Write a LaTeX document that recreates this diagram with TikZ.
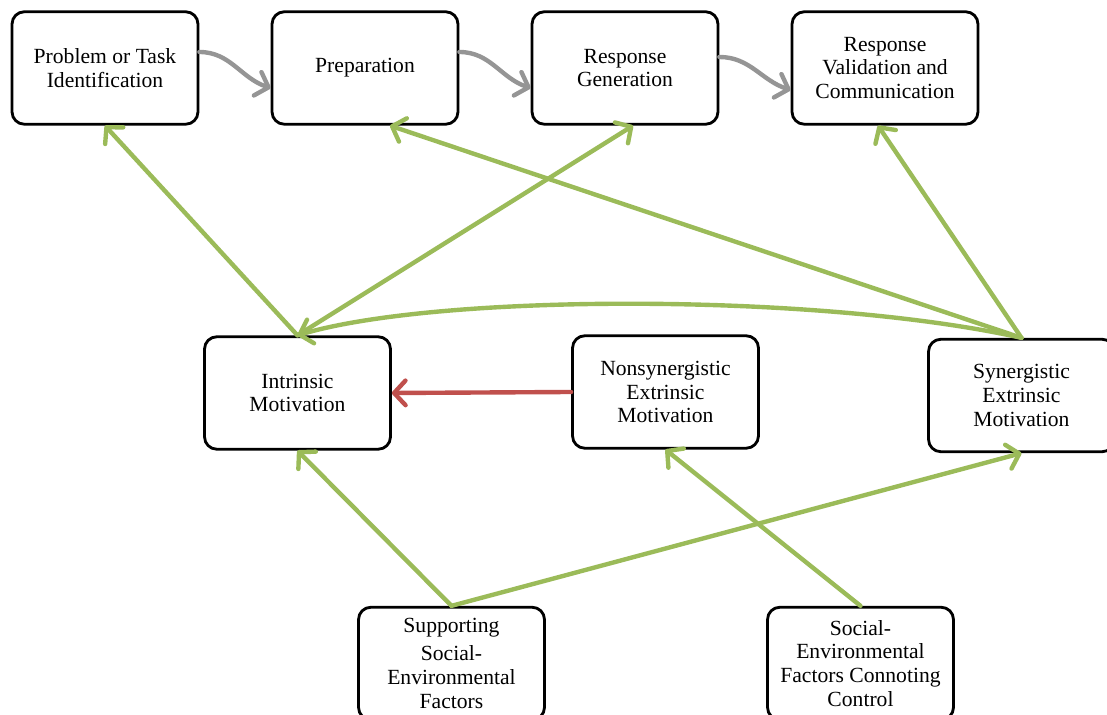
\documentclass[tikz,border=0pt]{standalone}
\usepackage{fontspec}
\setmainfont{Liberation Serif}
\usetikzlibrary{arrows.meta}

\definecolor{linkgreen}{HTML}{9BBB59}
\definecolor{flowgray}{HTML}{959595}
\definecolor{blockred}{HTML}{C0504D}

\tikzset{
    box/.style={draw=black, line width=1.6pt, rounded corners=7pt, fill=white,
        minimum width=3.72cm, minimum height=2.25cm, inner sep=0pt,
        align=center, font=\fontsize{12.3}{13.6}\selectfont},
    barb/.style={-{Straight Barb[length=6.5pt,width=14pt,round]}, line cap=round, line width=2.5pt},
    link/.style={barb, draw=linkgreen},
    flow/.style={barb, draw=flowgray},
    block/.style={barb, draw=blockred}
}

\begin{document}
\begin{tikzpicture}[x=0.02cm,y=-0.02cm]
    % Define dimensions
    \def\picwidth{1107}
    \def\picheight{715}
    \useasboundingbox (0,0) rectangle (\picwidth,\picheight);
    \clip (0,0) rectangle (\picwidth,\picheight);
    % Stages of the creative process
    \node[box] (task)  at (105,68) {Problem or Task\\Identification};
    \node[box] (prep)  at (365,68) {\raisebox{-2pt}{Preparation}};
    \node[box] (gen)   at (625,68) {Response\\Generation};
    \node[box] (valid) at (885,68) {Response\\Validation and\\Communication};
    % Kinds of motivation
    \node[box] (intrinsic) at (297.5,393) {Intrinsic\\Motivation};
    \node[box] (nonsyn)    at (665.5,392) {Nonsynergistic\\Extrinsic\\Motivation};
    \node[box] (syn)       at (1021.5,395.5) {Synergistic\\Extrinsic\\Motivation};
    % Social environment
    \node[box] (support) at (451.5,663.5) {Supporting\\[2pt]Social-\\Environmental\\Factors};
    \node[box] (control) at (860.5,663.5) {Social-\\Environmental\\Factors Connoting\\Control};
    % Flow between stages
    \draw[flow] ([yshift=0.32cm]task.east) to[out=0,in=162] ([yshift=-0.4cm]prep.west);
    \draw[flow] ([yshift=0.32cm]prep.east) to[out=0,in=162] ([yshift=-0.4cm]gen.west);
    \draw[flow] ([yshift=0.22cm]gen.east) to[out=0,in=162] ([yshift=-0.44cm]valid.west);
    % Motivation feeding the stages
    \draw[link] (intrinsic.north) -- (task.south);
    \draw[link] (intrinsic.north) -- ([xshift=0.16cm]gen.south);
    \draw[link] (syn.north) -- ([xshift=0.5cm]prep.south);
    \draw[link] (syn.north) -- ([xshift=-0.14cm]valid.south);
    \draw[link] (syn.north) .. controls (820,293) and (440,293) .. (intrinsic.north);
    \draw[block] (nonsyn.west) -- (intrinsic.east);
    % Environment feeding motivation
    \draw[link] (support.north) -- (intrinsic.south);
    \draw[link] (support.north) -- (syn.south);
    \draw[link] (control.north) -- (nonsyn.south);
\end{tikzpicture}
\end{document}
